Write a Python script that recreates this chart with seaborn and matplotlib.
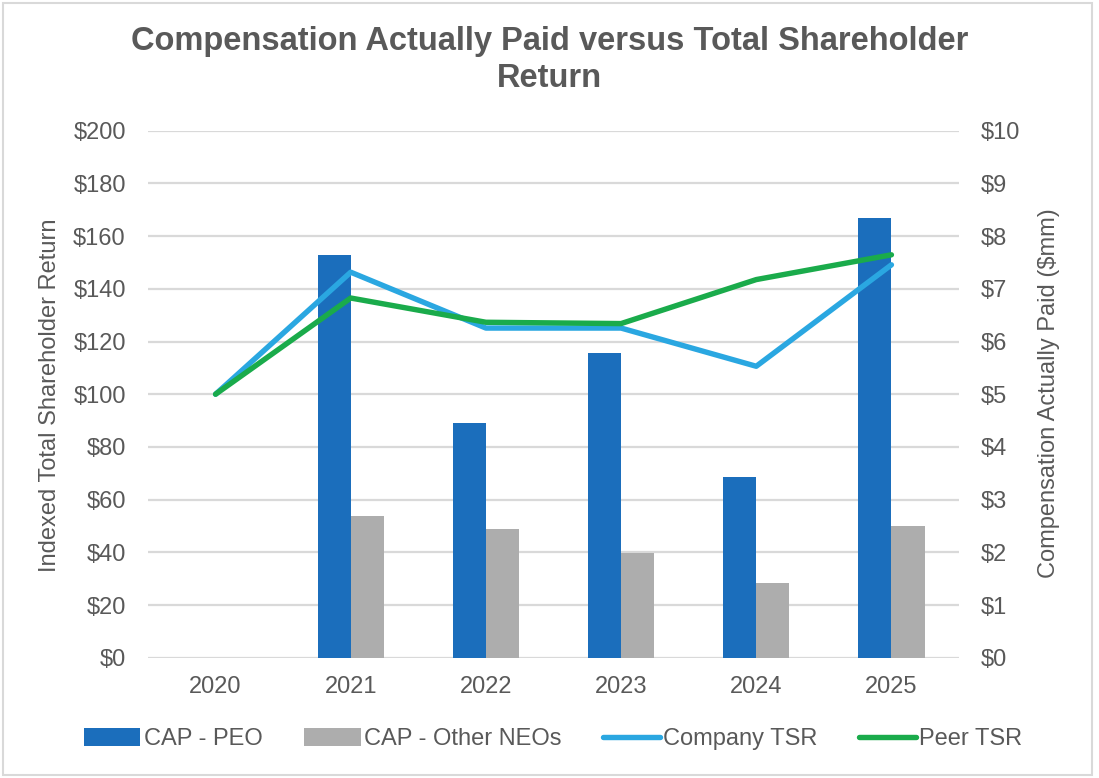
import matplotlib
matplotlib.use("Agg")
import matplotlib.pyplot as plt
import seaborn as sns
import pandas as pd
import numpy as np
from matplotlib.patches import Patch, Rectangle
from matplotlib.lines import Line2D
from matplotlib.ticker import FuncFormatter, MultipleLocator

# ---------------- data ----------------
years = ["2020", "2021", "2022", "2023", "2024", "2025"]
cap_peo = [np.nan, 7.65, 4.45, 5.78, 3.43, 8.35]        # $mm, right axis
cap_other = [np.nan, 2.69, 2.45, 1.98, 1.41, 2.50]      # $mm, right axis
company_tsr = [100, 146.3, 125.1, 125.1, 110.6, 149.1]  # left axis
peer_tsr = [100, 136.5, 127.3, 126.8, 143.5, 152.9]     # left axis

series_names = ["CAP - PEO", "CAP - Other NEOs", "Company TSR", "Peer TSR"]
title = "Compensation Actually Paid versus Total Shareholder\nReturn"
left_label = "Indexed Total Shareholder Return"
right_label = "Compensation Actually Paid ($mm)"

# ---------------- style ----------------
C_PEO = "#1B6EBC"
C_OTHER = "#ADADAD"
C_COMP = "#2AA7E1"
C_PEER = "#1AAB4B"
C_TEXT = "#595959"
C_GRID = "#D9D9D9"
FS = 17

sns.set_theme(style="white")
plt.rcParams['font.family'] = ['Liberation Sans', 'DejaVu Sans']

fig = plt.figure(figsize=(10.99, 7.78), dpi=100)
fig.patch.set_facecolor("white")
ax1 = fig.add_axes([148 / 1099, 1 - 657.7 / 778, (959 - 148) / 1099, (657.7 - 130.7) / 778])
ax2 = ax1.twinx()

# bars on right axis
bars = pd.DataFrame({
    "Year": years * 2,
    "CAP": cap_peo + cap_other,
    "Series": [series_names[0]] * len(years) + [series_names[1]] * len(years),
})
sns.barplot(data=bars, x="Year", y="CAP", hue="Series", order=years,
            hue_order=series_names[:2], palette=[C_PEO, C_OTHER],
            width=0.49, saturation=1, errorbar=None, legend=False, ax=ax2,
            linewidth=0, edgecolor="none")

# lines on left axis
for vals, col in [(company_tsr, C_COMP), (peer_tsr, C_PEER)]:
    sns.pointplot(x=years, y=vals, order=years, color=col, markers="",
                  linestyles="-", errorbar=None, ax=ax1,
                  linewidth=3.9, solid_joinstyle="round", solid_capstyle="round")

# put lines above bars
ax1.set_zorder(ax2.get_zorder() + 1)
ax1.patch.set_visible(False)

ax1.set_ylim(0, 200)
ax2.set_ylim(0, 10)
ax1.set_xlim(-0.5, len(years) - 0.5)
ax1.yaxis.set_major_locator(MultipleLocator(20))
ax2.yaxis.set_major_locator(MultipleLocator(1))
ax1.yaxis.set_major_formatter(FuncFormatter(lambda v, p: f"${v:.0f}"))
ax2.yaxis.set_major_formatter(FuncFormatter(lambda v, p: f"${v:.0f}"))

ax2.set_axisbelow(True)
ax2.grid(axis="y", color=C_GRID, linewidth=1.6)
ax2.grid(axis="x", visible=False)
ax1.grid(False)

for ax in (ax1, ax2):
    for s in ax.spines.values():
        s.set_visible(False)
    ax.set_xlabel("")
    ax.set_ylabel("")
    ax.tick_params(axis="both", length=0, labelsize=FS, labelcolor=C_TEXT)
ax1.tick_params(axis="y", pad=16)
ax2.tick_params(axis="y", pad=16)
ax1.tick_params(axis="x", pad=13)
ax2.tick_params(axis="x", labelbottom=False)
ax1.set_xticks(range(len(years)))
ax1.set_xticklabels(years)

# titles / labels
fig.text(0.5, 1 - 60 / 778, title, ha="center", va="center", fontsize=23.5,
         fontweight="bold", color=C_TEXT, linespacing=1.25)
fig.text(50 / 1099, 1 - 395 / 778, left_label, rotation=90, ha="center",
         va="center", fontsize=FS, color=C_TEXT)
fig.text(1049 / 1099, 1 - 393 / 778, right_label, rotation=90, ha="center",
         va="center", fontsize=FS, color=C_TEXT)

# legend
handles = [Patch(facecolor=C_PEO, edgecolor="none"),
           Patch(facecolor=C_OTHER, edgecolor="none"),
           Line2D([0], [0], color=C_COMP, lw=3.9, solid_capstyle="round"),
           Line2D([0], [0], color=C_PEER, lw=3.9, solid_capstyle="round")]
leg = fig.legend(handles, series_names, loc="center",
                 bbox_to_anchor=(553 / 1099, 1 - 739 / 778), ncol=4,
                 frameon=False, fontsize=FS, handlelength=2.4,
                 handleheight=0.8, handletextpad=0.15, columnspacing=1.75)
for t in leg.get_texts():
    t.set_color(C_TEXT)

# chart border
fig.patches.append(Rectangle((3 / 1099, 3 / 778), 1089 / 1099, 772 / 778,
                             transform=fig.transFigure, fill=False,
                             edgecolor=C_GRID, linewidth=1.5))

fig.savefig("out.png", dpi=100)
